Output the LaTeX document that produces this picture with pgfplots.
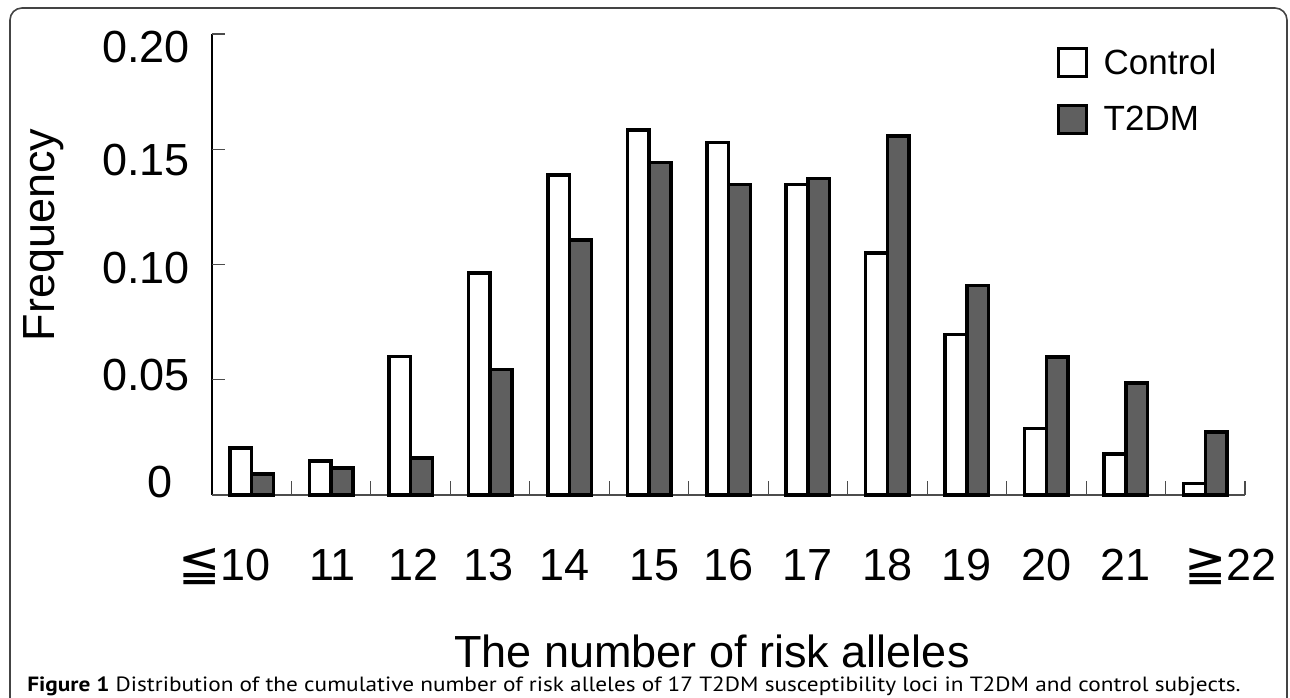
\documentclass[border=0pt]{standalone}
\usepackage{pgfplots}
\pgfplotsset{compat=1.18}
\usepackage{graphicx}
\usepackage{fontspec}
\setmainfont{Liberation Sans}
\newfontfamily\symfont{DejaVu Sans}
\newfontfamily\capfont{PT Sans}
\definecolor{barGray}{HTML}{5F5F5F}
\definecolor{frameGray}{HTML}{444444}

\begin{document}
\begin{tikzpicture}[x=0.75pt,y=0.75pt]
\useasboundingbox (0,0) rectangle (1290,697);
% frame
\draw[frameGray, line width=1.2pt, rounded corners=9pt] (10,-10) -- (10,689) -- (1287,689) -- (1287,-10);

\begin{axis}[
  at={(159pt,151.5pt)}, anchor=south west,
  scale only axis, width=774.75pt, height=345.75pt,
  xmin=-0.5, xmax=12.5, ymin=0, ymax=0.2,
  axis x line=bottom, axis y line=left,
  axis line style={-},
  x axis line style={draw=gray!60!black, line width=0.8pt},
  y axis line style={draw=black, line width=0.8pt},
  clip=false,
  ybar=0pt, bar width=16.3pt,
  font=\fontsize{33.75pt}{36pt}\selectfont,
  /pgf/number format/assume math mode=true,
  major tick length=0pt,
  tick align=inside,
  xtick={-0.343,1.017,2.03,2.98,3.94,5.07,6.0,7.0,8.0,9.0,10.0,11.0,12.32},
  xticklabels={{\symfont\scalebox{1.12}{≦}}10,11,12,13,14,15,16,17,18,19,20,21,{\symfont\scalebox{1.12}{≧}}22},
  xticklabel style={anchor=base, inner sep=0pt, yshift=-63.75pt},
  extra x ticks={0.5,1.5,2.5,3.5,4.5,5.5,6.5,7.5,8.5,9.5,10.5,11.5,12.5},
  extra x tick labels={},
  extra x tick style={major tick length=10.5pt, tick style={draw=gray!60!black, line width=0.8pt}},
  ytick={0.0056,0.0521,0.0985,0.1453,0.1944},
  yticklabels={0\kern12.75pt,0.05,0.10,0.15,0.20},
  yticklabel style={anchor=east, inner sep=0pt, xshift=-16.5pt},
  extra y ticks={0,0.05,0.1,0.15,0.2},
  extra y tick labels={},
  extra y tick style={major tick length=9.75pt, tick style={draw=gray!60!black, line width=0.8pt}},
  legend style={at={(0.818,0.972)}, anchor=north west, draw=none, fill=none,
    font=\fontsize{26.25pt}{28pt}\selectfont, row sep=20pt, inner sep=0pt,
    nodes={inner sep=0pt}},
  legend cell align=left,
  legend image code/.code={\draw[#1, line width=1.8pt] (0pt,-10.5pt) rectangle (21pt,10.5pt);},
]
\addplot[fill=white, draw=black, line width=2.6pt] coordinates {
  (0,0.0203) (1,0.0147) (2,0.0600) (3,0.0964) (4,0.1388) (5,0.1584) (6,0.1530)
  (7,0.1346) (8,0.1050) (9,0.0697) (10,0.0289) (11,0.0177) (12,0.0051)
};
\addplot[fill=barGray, draw=black, line width=2.6pt] coordinates {
  (0,0.0091) (1,0.0117) (2,0.0160) (3,0.0544) (4,0.1107) (5,0.1443) (6,0.1346)
  (7,0.1374) (8,0.1558) (9,0.0909) (10,0.0599) (11,0.0486) (12,0.0274)
};
\legend{\hspace{12pt}Control,\hspace{12pt}T2DM}
\end{axis}

\node[rotate=90, anchor=base, inner sep=0pt, font=\fontsize{33.75pt}{36pt}\selectfont] at (54,462) {Frequency};
\node[anchor=base, inner sep=0pt, font=\fontsize{33.75pt}{36pt}\selectfont] at (712,30) {The number of risk alleles};
\node[anchor=base west, inner sep=0pt] at (27,6) {\resizebox{910pt}{11pt}{\capfont\fontsize{12pt}{14pt}\selectfont\textbf{Figure 1} Distribution of the cumulative number of risk alleles of 17 T2DM susceptibility loci in T2DM and control subjects.}};
\end{tikzpicture}
\end{document}
